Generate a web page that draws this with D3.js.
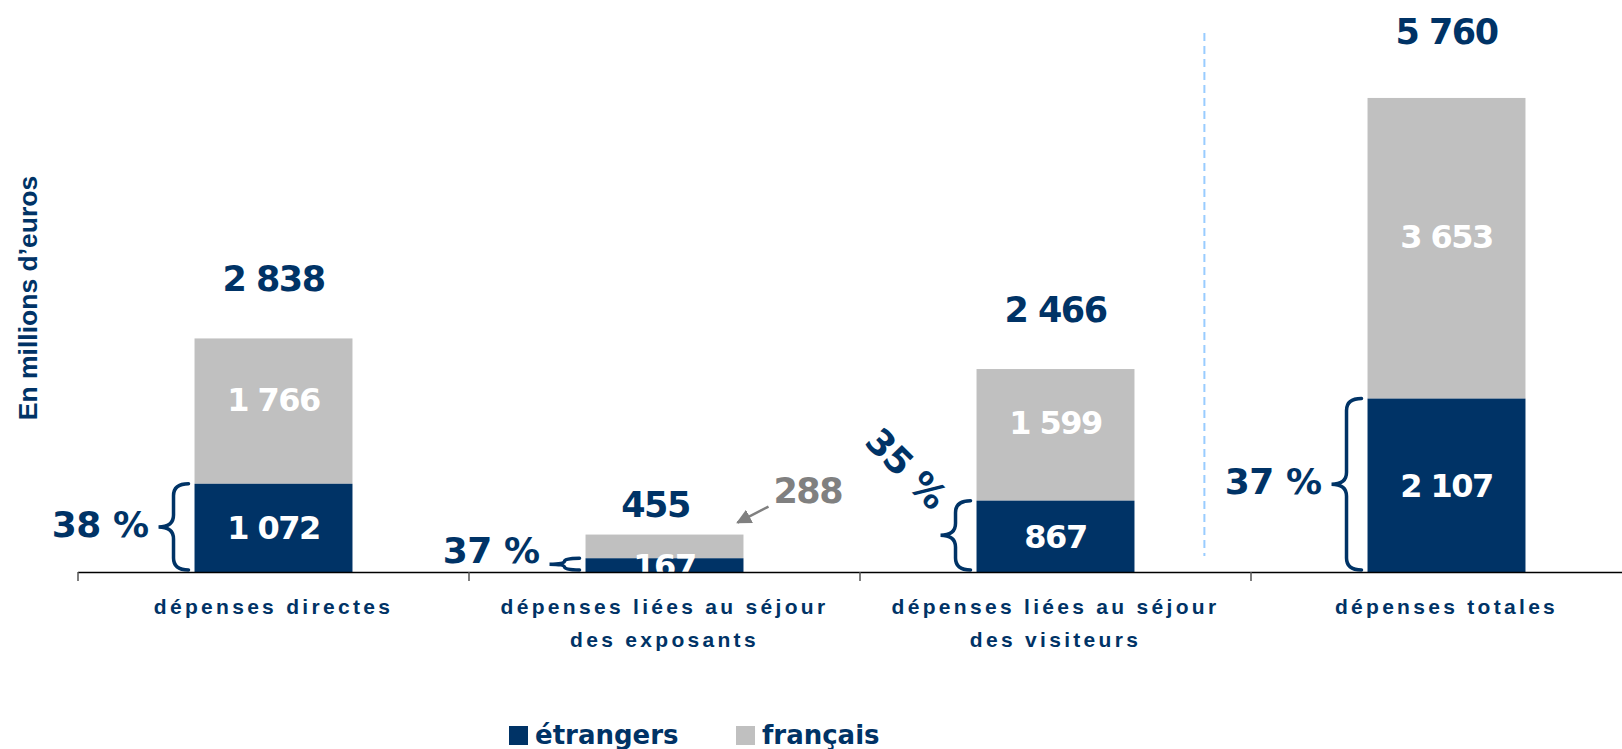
<!DOCTYPE html>
<html lang="fr">
<head>
<meta charset="UTF-8">
<title>Dépenses étrangers / français</title>
<style>
  body { margin: 0; background: #fff; }
  svg { display: block; }
  .num { font-family: "DejaVu Sans", Verdana, sans-serif; font-weight: bold; }
  .cat { font-family: "Liberation Sans", Arial, sans-serif; font-weight: bold; font-size: 21px; letter-spacing: 3.3px; }
</style>
</head>
<body>
<svg id="chart"></svg>
<script src="https://d3js.org/d3.v7.min.js"></script>
<script>
  // data (millions d'euros)
  const categories = [
    ["dépenses directes"],
    ["dépenses liées au séjour", "des exposants"],
    ["dépenses liées au séjour", "des visiteurs"],
    ["dépenses totales"]
  ];
  const etrangers = [1072, 167, 867, 2107];
  const francais = [1766, 288, 1599, 3653];
  const totals = [2838, 455, 2466, 5760];
  const seriesNames = ["étrangers", "français"];
  const yMax = 6000;

  const navy = "#003366", grey = "#c0c0c0";
  const W = 1622, H = 749;
  const axisY = 572, left = 78;

  const fmt = d => d3.format(",")(d).replace(",", " ");

  const svg = d3.select("#chart").attr("width", W).attr("height", H);

  const x = d3.scaleBand()
    .domain(d3.range(categories.length))
    .range([left, left + 391 * categories.length])
    .paddingInner(0.596)
    .paddingOuter(0.298);

  const y = d3.scaleLinear()
    .domain([0, yMax])
    .range([axisY, axisY - 493.8]);

  const bw = x.bandwidth();
  const cx = i => x(i) + bw / 2;

  // clip bars + inner labels at the axis (the "167" label gets cut there)
  svg.append("clipPath").attr("id", "plot")
    .append("rect").attr("x", 0).attr("y", 0).attr("width", W).attr("height", axisY);

  const plot = svg.append("g").attr("clip-path", "url(#plot)");

  plot.selectAll(".bar-fr")
    .data(francais)
    .enter().append("rect")
      .attr("x", (d, i) => x(i))
      .attr("y", (d, i) => y(etrangers[i] + d))
      .attr("width", bw)
      .attr("height", (d, i) => y(etrangers[i]) - y(etrangers[i] + d))
      .attr("fill", grey);

  plot.selectAll(".bar-et")
    .data(etrangers)
    .enter().append("rect")
      .attr("x", (d, i) => x(i))
      .attr("y", d => y(d))
      .attr("width", bw)
      .attr("height", d => axisY - y(d))
      .attr("fill", navy);

  // inner labels
  plot.selectAll(".lbl-et")
    .data(etrangers)
    .enter().append("text")
      .attr("class", "num")
      .attr("x", (d, i) => cx(i))
      .attr("y", d => y(d / 2))
      .attr("dy", "0.36em")
      .attr("text-anchor", "middle")
      .attr("font-size", 32)
      .attr("letter-spacing", -1.5)
      .attr("fill", "#fff")
      .text(fmt);

  francais.forEach((d, i) => {
    if (i === 1) return; // shown outside the bar
    plot.append("text")
      .attr("class", "num")
      .attr("x", cx(i))
      .attr("y", y(etrangers[i] + d / 2) - 12)
      .attr("dy", "0.36em")
      .attr("text-anchor", "middle")
      .attr("font-size", 32)
      .attr("letter-spacing", -1.5)
      .attr("fill", "#fff")
      .text(fmt(d));
  });

  // totals above the bars
  svg.selectAll(".lbl-tot")
    .data(totals)
    .enter().append("text")
      .attr("class", "num")
      .attr("x", (d, i) => cx(i) - (i === 1 ? 9 : 0))
      .attr("y", (d, i) => y(d) - (i === 1 ? 18 : i === 3 ? 54 : 47))
      .attr("text-anchor", "middle")
      .attr("font-size", 35)
      .attr("letter-spacing", -1.5)
      .attr("fill", navy)
      .text(fmt);

  // small français value of bar 2 placed outside with an arrow
  const b2r = x(1) + bw, b2t = y(totals[1]);
  svg.append("defs").append("marker")
      .attr("id", "arrow")
      .attr("viewBox", "0 0 10 10")
      .attr("refX", 9).attr("refY", 5)
      .attr("markerWidth", 6).attr("markerHeight", 6)
      .attr("orient", "auto")
    .append("path").attr("d", "M0,0L10,5L0,10z").attr("fill", "#808080");
  svg.append("line")
    .attr("x1", b2r + 25).attr("y1", b2t - 28)
    .attr("x2", b2r - 6).attr("y2", b2t - 12)
    .attr("stroke", "#808080").attr("stroke-width", 2.5)
    .attr("marker-end", "url(#arrow)");
  svg.append("text")
    .attr("class", "num")
    .attr("x", b2r + 30).attr("y", b2t - 32)
    .attr("font-size", 35)
    .attr("letter-spacing", -1.5)
    .attr("fill", "#808080")
    .text(francais[1]);

  // braces + share of étrangers
  function bracePath(xl, xr, y0, y1) {
    const xm = (xl + xr) / 2, mid = (y0 + y1) / 2;
    const k = Math.min(12, (y1 - y0) / 4);
    return `M${xr},${y0} Q${xm},${y0} ${xm},${y0 + k} L${xm},${mid - k} Q${xm},${mid} ${xl},${mid}` +
           ` Q${xm},${mid} ${xm},${mid + k} L${xm},${y1 - k} Q${xm},${y1} ${xr},${y1}`;
  }

  etrangers.forEach((d, i) => {
    const xr = x(i) - 6, xl = xr - 30;
    const y0 = y(d), y1 = axisY - 2;
    const mid = (y0 + y1) / 2;
    svg.append("path")
      .attr("d", bracePath(xl, xr, y0, y1))
      .attr("fill", "none")
      .attr("stroke", navy)
      .attr("stroke-width", 3.5)
      .attr("stroke-linecap", "round");

    const pct = Math.round(100 * d / totals[i]) + " %";
    const t = svg.append("text")
      .attr("class", "num")
      .attr("font-size", 36)
      .attr("letter-spacing", -0.5)
      .attr("fill", navy)
      .text(pct);
    if (i === 2) {
      t.attr("text-anchor", "middle")
       .attr("dy", "0.36em")
       .attr("transform", `translate(${xl - 34},${mid - 67}) rotate(45)`);
    } else {
      t.attr("text-anchor", "end")
       .attr("x", xl - 10)
       .attr("y", Math.min(mid + 10, axisY - 9));
    }
  });

  // dashed separator before the total bar
  const sepX = x(2) + bw + 0.3 * (x(3) - x(2) - bw);
  svg.append("line")
    .attr("x1", sepX).attr("x2", sepX)
    .attr("y1", 33).attr("y2", 556)
    .attr("stroke", "#99ccff")
    .attr("stroke-width", 2)
    .attr("stroke-dasharray", "8,5");

  // category axis
  svg.append("line")
    .attr("x1", left).attr("x2", W)
    .attr("y1", axisY + 0.5).attr("y2", axisY + 0.5)
    .attr("stroke", "#000").attr("stroke-width", 1.5);

  const tickXs = d3.range(categories.length + 1).map(i => left + i * x.step());
  svg.selectAll(".tick")
    .data(tickXs)
    .enter().append("line")
      .attr("x1", d => d).attr("x2", d => d)
      .attr("y1", axisY).attr("y2", axisY + 9)
      .attr("stroke", "#555").attr("stroke-width", 1.5);

  const cat = svg.selectAll(".cat")
    .data(categories)
    .enter().append("text")
      .attr("class", "cat")
      .attr("text-anchor", "middle")
      .attr("fill", navy);
  cat.selectAll("tspan")
    .data((d, i) => d.map(line => ({ line, i })))
    .enter().append("tspan")
      .attr("x", d => cx(d.i))
      .attr("y", (d, j) => 614 + j * 33)
      .text(d => d.line);

  // y axis title
  svg.append("text")
    .attr("transform", "translate(37,298) rotate(-90)")
    .attr("text-anchor", "middle")
    .attr("font-family", "Liberation Sans, Arial, sans-serif")
    .attr("font-weight", "bold")
    .attr("font-size", 26.5)
    .attr("fill", navy)
    .text("En millions d’euros");

  // legend
  const legendX = [509, 736];
  const legend = svg.selectAll(".legend")
    .data(seriesNames)
    .enter().append("g")
      .attr("transform", (d, i) => `translate(${legendX[i]},726)`);
  legend.append("rect")
    .attr("width", 19).attr("height", 19)
    .attr("fill", (d, i) => i === 0 ? navy : grey);
  legend.append("text")
    .attr("x", 26).attr("y", 18)
    .attr("font-family", "DejaVu Sans, Verdana, sans-serif")
    .attr("font-weight", "bold")
    .attr("font-size", 26)
    .attr("fill", navy)
    .text(d => d);
</script>
</body>
</html>
